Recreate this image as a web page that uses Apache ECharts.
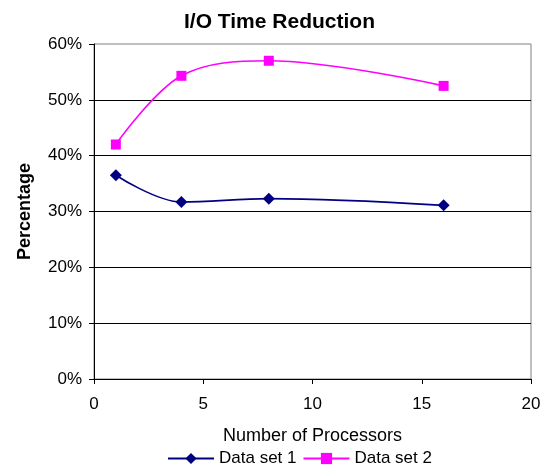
<!DOCTYPE html>
<html>
<head>
<meta charset="utf-8">
<script src="https://cdn.jsdelivr.net/npm/echarts@6/dist/echarts.min.js"></script>
<style>html,body{margin:0;padding:0;background:#fff;}#c{width:547px;height:466px;}</style>
</head>
<body>
<div id="c"></div>
<script>
var processors = [1, 4, 8, 16];
var dataSet1 = [36.5, 31.7, 32.3, 31.1];
var dataSet2 = [42.0, 54.3, 57.0, 52.5];
var xTicks = [0, 5, 10, 15, 20];
var yTicks = [0, 10, 20, 30, 40, 50, 60];

var font = '"Liberation Sans", Arial, sans-serif';
function pairs(xs, ys) { return xs.map(function (x, i) { return [x, ys[i]]; }); }

// use a condensed face for the legend if one is installed
function hasFont(name) {
  var cv = document.createElement('canvas').getContext('2d');
  var s = 'Data set 1 abcdefghijklmnop';
  cv.font = '20px monospace';
  var a = cv.measureText(s).width;
  cv.font = '20px "' + name + '", monospace';
  var b = cv.measureText(s).width;
  return Math.abs(a - b) > 0.5;
}
var legendFont = font, legendSize = 17, legendTop = 450;
if (hasFont('Liberation Sans Narrow')) {
  legendFont = '"Liberation Sans Narrow", sans-serif'; legendSize = 20; legendTop = 452;
}

var chart = echarts.init(document.getElementById('c'), null, {renderer: 'canvas'});
chart.setOption({
  animation: false,
  backgroundColor: '#ffffff',
  title: {
    text: 'I/O Time Reduction',
    left: 179, top: 7,
    textStyle: {fontFamily: font, fontSize: 21, fontWeight: 'bold', color: '#000'}
  },
  grid: {left: 94, right: 16, top: 44, bottom: 87, show: true, borderColor: '#808080', borderWidth: 1, backgroundColor: 'transparent'},
  xAxis: {
    type: 'value', min: xTicks[0], max: xTicks[xTicks.length - 1], interval: 5,
    name: 'Number of Processors', nameLocation: 'middle', nameGap: 48,
    nameTextStyle: {fontFamily: font, fontSize: 18, color: '#000'},
    axisLine: {show: true, onZero: false, lineStyle: {color: '#000', width: 1}},
    axisTick: {show: true, inside: false, length: 5, lineStyle: {color: '#000'}},
    axisLabel: {fontFamily: font, fontSize: 17, color: '#000', margin: 17},
    splitLine: {show: false}
  },
  yAxis: {
    type: 'value', min: yTicks[0], max: yTicks[yTicks.length - 1], interval: 10,
    name: 'Percentage', nameLocation: 'middle', nameGap: 60, nameRotate: 90,
    nameTextStyle: {fontFamily: font, fontSize: 18, fontWeight: 'bold', color: '#000'},
    axisLine: {show: true, lineStyle: {color: '#000', width: 1}},
    axisTick: {show: true, inside: false, length: 5, lineStyle: {color: '#000'}},
    axisLabel: {fontFamily: font, fontSize: 17, color: '#000', margin: 12, formatter: '{value}%'},
    splitLine: {show: true, showMinLine: false, showMaxLine: false, lineStyle: {color: '#000', width: 1}}
  },
  legend: {
    left: 167, top: legendTop, padding: 0, itemWidth: 46, itemHeight: 14, itemGap: 6,
    textStyle: {fontFamily: legendFont, fontSize: legendSize, color: '#000'},
    data: ['Data set 1', 'Data set 2']
  },
  series: [
    {
      name: 'Data set 1', type: 'line', smooth: 0.35,
      data: pairs(processors, dataSet1),
      symbol: 'diamond', symbolSize: 12,
      lineStyle: {color: '#000080', width: 1.6},
      itemStyle: {color: '#000080'}
    },
    {
      name: 'Data set 2', type: 'line', smooth: 0.35,
      data: pairs(processors, dataSet2),
      symbol: 'rect', symbolSize: 10,
      lineStyle: {color: '#FF00FF', width: 1.6},
      itemStyle: {color: '#FF00FF'}
    }
  ]
});
</script>
</body>
</html>
